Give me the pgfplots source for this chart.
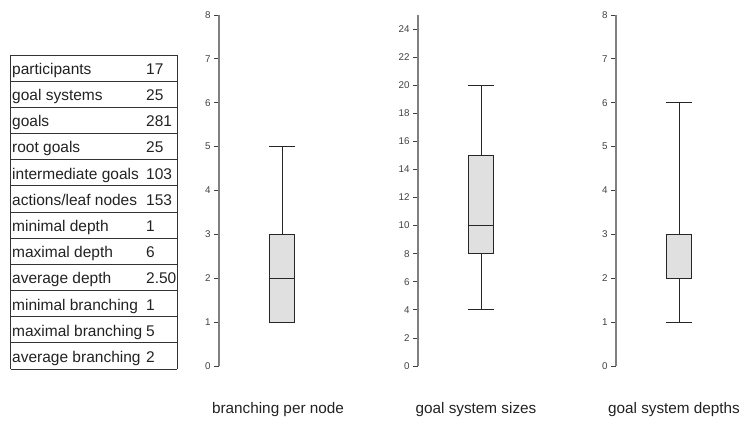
\documentclass[border=0pt]{standalone}
\usepackage{fontspec}
\setmainfont{Liberation Sans}
\usepackage{pgfplots}
\pgfplotsset{compat=1.18}
\usepgfplotslibrary{statistics}
\definecolor{boxfill}{HTML}{E0E0E0}
\definecolor{axgray}{HTML}{808080}
\definecolor{txt}{HTML}{222222}
\pgfplotsset{
  bpstyle/.style={
    scale only axis, width=126pt, height=351pt,
    xmin=0, xmax=1, ymin=0,
    axis x line=none, axis y line*=left,
    y axis line style={draw=axgray, line width=1.3pt},
    tick align=outside, major tick length=5pt,
    ytick style={draw=black!75, line width=0.8pt},
    yticklabel style={font=\fontsize{9.8}{11}\selectfont, text=black!75},
    /pgf/number format/assume math mode=true,
    clip=false,
    boxplot/draw direction=y,
  },
  boxst/.style={fill=boxfill, draw=black!85, line width=1pt, solid, mark=none},
}
\begin{document}
\begin{tikzpicture}
\path[use as bounding box] (0pt,0pt) rectangle (742pt,421pt);
% table
\foreach \k in {0,...,12} \draw[black!80, line width=0.8pt] (10.5pt,{(366-26.1667*\k)*1pt}) -- (177pt,{(366-26.1667*\k)*1pt});
\draw[black!80, line width=0.8pt] (10.5pt,366pt) -- (10.5pt,52pt) (177pt,366pt) -- (177pt,52pt);
\begin{scope}[every node/.style={anchor=base west, inner sep=0pt, font=\fontsize{15.5}{16}\selectfont, text=txt}]
\node at (12pt,346.5pt) {participants}; \node at (146pt,346.5pt) {17};
\node at (12pt,320.4pt) {goal systems}; \node at (146pt,320.4pt) {25};
\node at (12pt,294.2pt) {goals}; \node at (146pt,294.2pt) {281};
\node at (12pt,268.0pt) {root goals}; \node at (146pt,268.0pt) {25};
\node at (12pt,241.9pt) {intermediate goals}; \node at (146pt,241.9pt) {103};
\node at (12pt,215.7pt) {actions/leaf nodes}; \node at (146pt,215.7pt) {153};
\node at (12pt,189.5pt) {minimal depth}; \node at (146pt,189.5pt) {1};
\node at (12pt,163.4pt) {maximal depth}; \node at (146pt,163.4pt) {6};
\node at (12pt,137.2pt) {average depth}; \node at (146pt,137.2pt) {2.50};
\node at (12pt,111.0pt) {minimal branching}; \node at (146pt,111.0pt) {1};
\node at (12pt,84.9pt) {maximal branching}; \node at (146pt,84.9pt) {5};
\node at (12pt,58.7pt) {average branching}; \node at (146pt,58.7pt) {2};
\end{scope}
% box plots
\begin{axis}[bpstyle, at={(219pt,55pt)}, anchor=south west, ymax=8, ytick={0,1,...,8}]
\addplot[boxst, boxplot prepared={lower whisker=1, lower quartile=1, median=2, upper quartile=3, upper whisker=5, draw position=0.5, box extend=0.206, whisker extend=0.206}] coordinates {};
\end{axis}
\begin{axis}[bpstyle, at={(418pt,55pt)}, anchor=south west, ymax=25, ytick={0,2,...,24}]
\addplot[boxst, boxplot prepared={lower whisker=4, lower quartile=8, median=10, upper quartile=15, upper whisker=20, draw position=0.5, box extend=0.206, whisker extend=0.206}] coordinates {};
\end{axis}
\begin{axis}[bpstyle, at={(616pt,55pt)}, anchor=south west, ymax=8, ytick={0,1,...,8}]
\addplot[boxst, boxplot prepared={lower whisker=1, lower quartile=2, median=2, upper quartile=3, upper whisker=6, draw position=0.5, box extend=0.206, whisker extend=0.206}] coordinates {};
\end{axis}
\begin{scope}[every node/.style={anchor=base, inner sep=0pt, font=\fontsize{15.3}{16}\selectfont, text=txt}]
\node at (278pt,8pt) {branching per node};
\node at (476pt,8pt) {goal system sizes};
\node at (674pt,8pt) {goal system depths};
\end{scope}
\end{tikzpicture}
\end{document}
